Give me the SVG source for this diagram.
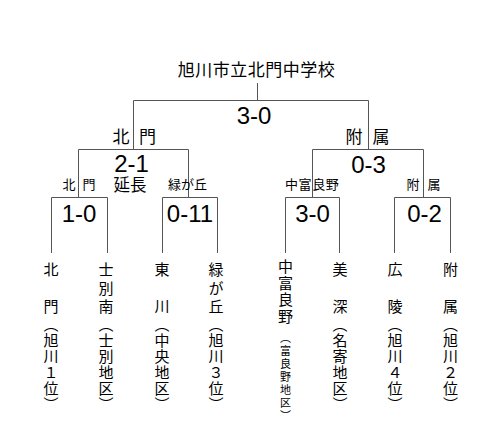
<svg xmlns="http://www.w3.org/2000/svg" width="500" height="434" viewBox="0 0 500 434">
<style>
.ln{stroke:#555;stroke-width:1;fill:none}
.jp{font-family:"Noto Sans CJK JP","Noto Sans CJK SC",sans-serif;fill:#000}
.sc{font-family:"Liberation Sans",Arial,sans-serif;font-size:24px;fill:#000;text-anchor:middle}
.t{font-size:17px}
.s{font-size:13px}
.v{font-family:"Noto Sans CJK JP",sans-serif;font-size:15px;writing-mode:vertical-rl;fill:#000}
.n{letter-spacing:3.5px}
.p{letter-spacing:1px}
.q{font-size:11px;letter-spacing:2px}
</style>
<rect width="500" height="434" fill="#fff"/>
<g id="connectors">
<path class="ln" d="M257.5 83V100.5M133.5 149V100.5H368.5V149"/>
<path class="ln" d="M78.5 197V149.5H188.5V197M312.5 197V149.5H423.5V197"/>
<path class="ln" d="M51.5 253V197.5H107.5V253M162.5 253V197.5H217.5V253M285.5 253V197.5H339.5V253M394.5 253V197.5H450.5V253"/>
</g>
<g id="final">
<text class="jp t" x="256.5" y="75.5" text-anchor="middle" letter-spacing="0.5">旭川市立北門中学校</text>
<text class="sc" x="254" y="124">3-0</text>
</g>
<g id="semi-left">
<text class="jp t" y="142.5"><tspan x="112.5">北</tspan><tspan x="139">門</tspan></text>
<text class="sc" x="131.5" y="172">2-1</text>
<text class="jp" x="130" y="190.5" text-anchor="middle" font-size="16.5">延長</text>
</g>
<g id="semi-right">
<text class="jp t" y="142.5"><tspan x="345.5">附</tspan><tspan x="372.5">属</tspan></text>
<text class="sc" x="368.5" y="172.5">0-3</text>
</g>
<g id="q1">
<text class="jp s" y="189"><tspan x="62.5">北</tspan><tspan x="82.5">門</tspan></text>
<text class="sc" x="79" y="222">1-0</text>
</g>
<g id="q2">
<text class="jp s" x="168" y="189">緑が丘</text>
<text class="sc" x="190" y="222">0-11</text>
</g>
<g id="q3">
<text class="jp s" x="285" y="189" letter-spacing="0.6">中富良野</text>
<text class="sc" x="312.5" y="222">3-0</text>
</g>
<g id="q4">
<text class="jp s" y="189"><tspan x="406.5">附</tspan><tspan x="427.5">属</tspan></text>
<text class="sc" x="424.5" y="222">0-2</text>
</g>
<g id="team-hokumon">
<text class="v n" x="51" y="262">北　門</text>
<text class="v p" x="51" y="317">（旭川１位）</text>
</g>
<g id="team-shibetsuminami">
<text class="v n" x="106" y="262">士別南</text>
<text class="v p" x="106" y="317">（士別地区）</text>
</g>
<g id="team-higashikawa">
<text class="v n" x="162" y="262">東　川</text>
<text class="v p" x="162" y="317">（中央地区）</text>
</g>
<g id="team-midorigaoka">
<text class="v n" x="216" y="262">緑が丘</text>
<text class="v p" x="216" y="317">（旭川３位）</text>
</g>
<g id="team-nakafurano">
<text class="v" x="285.5" y="259" letter-spacing="1.5">中富良野</text>
<text class="v q" x="285.5" y="332">（富良野地区）</text>
</g>
<g id="team-bifuka">
<text class="v n" x="340" y="262">美　深</text>
<text class="v p" x="340" y="317">（名寄地区）</text>
</g>
<g id="team-koryo">
<text class="v n" x="395" y="262">広　陵</text>
<text class="v p" x="395" y="317">（旭川４位）</text>
</g>
<g id="team-fuzoku">
<text class="v n" x="450.5" y="262">附　属</text>
<text class="v p" x="450.5" y="317">（旭川２位）</text>
</g>
</svg>
